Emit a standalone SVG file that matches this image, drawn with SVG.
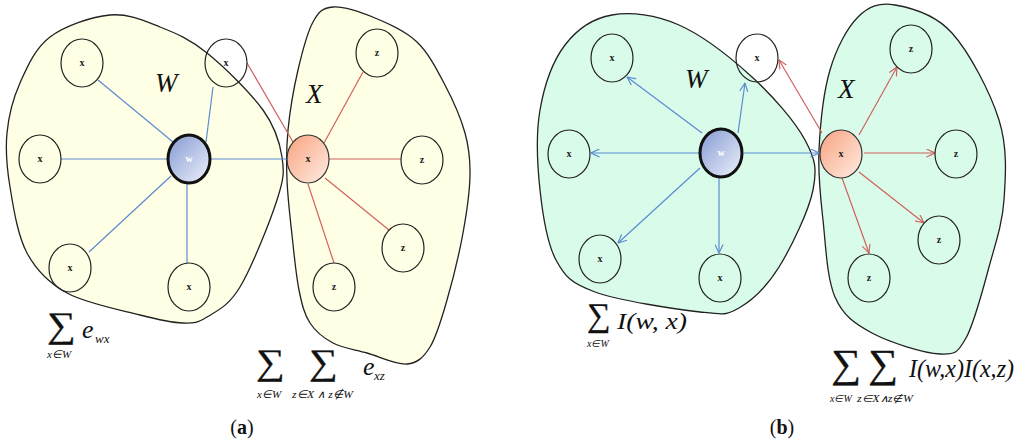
<svg xmlns="http://www.w3.org/2000/svg" width="1024" height="446" viewBox="0 0 1024 446">
<style>
.blobA{fill:#FFFFE6;stroke:#222;stroke-width:1.3}
.blobB{fill:#D9FBEA;stroke:#222;stroke-width:1.3}
.nd{fill:none;stroke:#222;stroke-width:1.2}
.lbl{font-family:"Liberation Serif",serif;font-size:10px;font-weight:bold;fill:#222;text-anchor:middle}
.wl{font-family:"Liberation Serif",serif;font-size:10px;font-weight:bold;fill:#fff;text-anchor:middle}
.blue{stroke:#5A8BD0;stroke-width:1.2;fill:none}
.red{stroke:#D0625C;stroke-width:1.2;fill:none}
.m{font-family:"Liberation Serif",serif;font-style:italic;fill:#111}
.sig{font-family:"Liberation Serif","DejaVu Serif",serif;fill:#111;stroke:#111;stroke-width:0.3}
.cap{font-family:"Liberation Serif",serif;font-size:20px;fill:#111;text-anchor:middle}
</style>
<defs>
<linearGradient id="gw" x1="0" y1="0" x2="1" y2="1">
<stop offset="0" stop-color="#8499D3"/><stop offset="1" stop-color="#EEF2FB"/>
</linearGradient>
<linearGradient id="go" x1="0" y1="0" x2="1" y2="1">
<stop offset="0" stop-color="#F8A27F"/><stop offset="1" stop-color="#FFEDE3"/>
</linearGradient>
<marker id="ab" viewBox="0 0 10 10" refX="9.5" refY="5" markerWidth="9" markerHeight="9" markerUnits="userSpaceOnUse" orient="auto">
<path d="M0,0.5 L9.5,5 L0,9.5" fill="none" stroke="#5A8BD0" stroke-width="1.3"/>
</marker>
<marker id="ar" viewBox="0 0 10 10" refX="9.5" refY="5" markerWidth="9" markerHeight="9" markerUnits="userSpaceOnUse" orient="auto">
<path d="M0,0.5 L9.5,5 L0,9.5" fill="none" stroke="#D0625C" stroke-width="1.3"/>
</marker>
</defs>

<!-- Panel (a) -->
<g id="a-setW">
<path class="blobA" d="M110,15 C128.3,13.3 143.8,20.7 160,27 C176.2,33.3 189.8,39.2 207,53 C224.2,66.8 250.5,92.7 263,110 C275.5,127.3 279.7,142 282,157 C284.3,172 284,178.3 277,200 C270,221.7 251.7,267.5 240,287 C228.3,306.5 216.5,311 207,317 C197.5,323 194.2,323.3 183,323 C171.8,322.7 159.3,320 140,315 C120.7,310 85.8,303.3 67,293 C48.2,282.7 36.5,270.7 27,253 C17.5,235.3 13.3,207 10,187 C6.7,167 5.3,150.3 7,133 C8.7,115.7 12.8,99 20,83 C27.2,67 35,48.3 50,37 C65,25.7 91.7,16.7 110,15 Z"/>
<text class="m" x="155" y="92" font-size="27">W</text>
</g>
<g id="a-setX">
<path class="blobA" d="M333,7 C343.3,6.3 361,12.2 375,18 C389,23.8 405.3,30.8 417,42 C428.7,53.2 437,69.8 445,85 C453,100.2 460.8,118 465,133 C469.2,148 470.3,158.3 470,175 C469.7,191.7 466.8,212.2 463,233 C459.2,253.8 452.5,281 447,300 C441.5,319 436.7,336.3 430,347 C423.3,357.7 417.5,363 407,364 C396.5,365 379.3,356.5 367,353 C354.7,349.5 342.5,348 333,343 C323.5,338 315.7,331.8 310,323 C304.3,314.2 302,304.7 299,290 C296,275.3 294,253.3 292,235 C290,216.7 287.7,197.5 287,180 C286.3,162.5 286.2,148.3 288,130 C289.8,111.7 293.8,88 298,70 C302.2,52 307.2,32.5 313,22 C318.8,11.5 322.7,7.7 333,7 Z"/>
<text class="m" x="306" y="103" font-size="27">X</text>
</g>
<g id="a-edges">
<line class="blue" x1="173" y1="142" x2="98" y2="80"/>
<line class="blue" x1="206" y1="142" x2="213" y2="87"/>
<line class="blue" x1="168" y1="159" x2="61" y2="159"/>
<line class="blue" x1="171" y1="176" x2="89" y2="252"/>
<line class="blue" x1="187" y1="183" x2="187" y2="263"/>
<line class="blue" x1="210" y1="159" x2="287" y2="159"/>
<line class="red" x1="293" y1="142" x2="247" y2="63"/>
<line class="red" x1="324" y1="143" x2="363" y2="72"/>
<line class="red" x1="329" y1="159" x2="401" y2="159"/>
<line class="red" x1="325" y1="178" x2="389" y2="230"/>
<line class="red" x1="308" y1="184" x2="334" y2="263"/>
</g>
<g id="a-x1"><ellipse class="nd" cx="82" cy="63" rx="21" ry="24"/><text class="lbl" x="82" y="66">x</text></g>
<g id="a-x2"><ellipse class="nd" cx="226" cy="63" rx="21" ry="24"/><text class="lbl" x="226" y="66">x</text></g>
<g id="a-x3"><ellipse class="nd" cx="40" cy="159" rx="21" ry="24"/><text class="lbl" x="40" y="162">x</text></g>
<g id="a-x4"><ellipse class="nd" cx="70" cy="268" rx="21" ry="24"/><text class="lbl" x="70" y="271">x</text></g>
<g id="a-x5"><ellipse class="nd" cx="189" cy="287" rx="21" ry="24"/><text class="lbl" x="189" y="290">x</text></g>
<g id="a-w"><ellipse cx="189" cy="159" rx="21" ry="24" fill="url(#gw)" stroke="#111" stroke-width="3"/><text class="wl" x="189" y="162">w</text></g>
<g id="a-xo"><ellipse cx="308" cy="159" rx="21" ry="24" fill="url(#go)" stroke="#333" stroke-width="1.2"/><text class="lbl" x="308" y="162">x</text></g>
<g id="a-z1"><ellipse class="nd" cx="377" cy="53" rx="21" ry="24"/><text class="lbl" x="377" y="56">z</text></g>
<g id="a-z2"><ellipse class="nd" cx="422" cy="160" rx="21" ry="24"/><text class="lbl" x="422" y="163">z</text></g>
<g id="a-z3"><ellipse class="nd" cx="403" cy="248" rx="21" ry="24"/><text class="lbl" x="403" y="251">z</text></g>
<g id="a-z4"><ellipse class="nd" cx="334" cy="287" rx="21" ry="24"/><text class="lbl" x="334" y="290">z</text></g>

<g id="a-formulas">
<text class="sig" font-size="36" transform="translate(47,337) scale(1.12,1)">∑</text>
<text class="m" x="47" y="358" font-size="11">x∈W</text>
<text class="m" x="82" y="338" font-size="26">e</text>
<text class="m" x="95" y="343" font-size="13">wx</text>
<text class="sig" font-size="36" transform="translate(256,374) scale(1.12,1)">∑</text>
<text class="sig" font-size="36" transform="translate(309,374) scale(1.12,1)">∑</text>
<text class="m" x="257" y="398" font-size="11">x∈W</text>
<text class="m" x="292" y="398" font-size="11" textLength="61" lengthAdjust="spacingAndGlyphs">z∈X ∧ z∉W</text>
<text class="m" x="363" y="375" font-size="26">e</text>
<text class="m" x="374" y="380" font-size="13">xz</text>
</g>
<text class="cap" x="242" y="434">(<tspan font-weight="bold">a</tspan>)</text>

<!-- Panel (b) -->
<g id="b-setW">
<path class="blobB" d="M612,15 C631,11.7 655.7,14.7 679,25 C702.3,35.3 731,57.8 752,77 C773,96.2 794.8,121.2 805,140 C815.2,158.8 817.3,168.8 813,190 C808.7,211.2 791.3,247.3 779,267 C766.7,286.7 752.2,300.5 739,308 C725.8,315.5 724,314.7 700,312 C676,309.3 619,300.7 595,292 C571,283.3 565.2,277 556,260 C546.8,243 542.7,215 540,190 C537.3,165 535.8,134.2 540,110 C544.2,85.8 553,60.8 565,45 C577,29.2 593,18.3 612,15 Z"/>
<text class="m" x="685" y="88" font-size="27">W</text>
</g>
<g id="b-setX">
<path class="blobB" d="M895,5 C910.7,7.7 934.7,13.8 952,33 C969.3,52.2 990.3,92.2 999,120 C1007.7,147.8 1005.7,175.5 1004,200 C1002.3,224.5 995.3,244 989,267 C982.7,290 974.2,323.5 966,338 C957.8,352.5 955.7,354.8 940,354 C924.3,353.2 889.5,342.5 872,333 C854.5,323.5 843.2,315.8 835,297 C826.8,278.2 825.7,244.5 823,220 C820.3,195.5 817.8,175 819,150 C820.2,125 823.5,92.2 830,70 C836.5,47.8 847.2,27.8 858,17 C868.8,6.2 879.3,2.3 895,5 Z"/>
<text class="m" x="838" y="98" font-size="27">X</text>
</g>
<g id="b-edges">
<line class="blue" marker-end="url(#ab)" x1="702" y1="133" x2="627" y2="77"/>
<line class="blue" marker-end="url(#ab)" x1="738" y1="133" x2="745" y2="83"/>
<line class="blue" marker-end="url(#ab)" x1="699" y1="153" x2="591" y2="153"/>
<line class="blue" marker-end="url(#ab)" x1="700" y1="168" x2="618" y2="243"/>
<line class="blue" marker-end="url(#ab)" x1="719" y1="178" x2="719" y2="253"/>
<line class="blue" marker-end="url(#ab)" x1="744" y1="153" x2="819" y2="153"/>
<line class="red" marker-end="url(#ar)" x1="822" y1="133" x2="779" y2="60"/>
<line class="red" marker-end="url(#ar)" x1="859" y1="135" x2="897" y2="67"/>
<line class="red" marker-end="url(#ar)" x1="864" y1="153" x2="935" y2="153"/>
<line class="red" marker-end="url(#ar)" x1="859" y1="172" x2="924" y2="223"/>
<line class="red" marker-end="url(#ar)" x1="842" y1="178" x2="869" y2="253"/>
</g>
<g id="b-x1"><ellipse class="nd" cx="612" cy="58" rx="21" ry="24"/><text class="lbl" x="612" y="61">x</text></g>
<g id="b-x2"><ellipse class="nd" cx="757" cy="58" rx="21" ry="24"/><text class="lbl" x="757" y="61">x</text></g>
<g id="b-x3"><ellipse class="nd" cx="569" cy="154" rx="21" ry="24"/><text class="lbl" x="569" y="157">x</text></g>
<g id="b-x4"><ellipse class="nd" cx="600" cy="259" rx="21" ry="24"/><text class="lbl" x="600" y="262">x</text></g>
<g id="b-x5"><ellipse class="nd" cx="720" cy="278" rx="21" ry="24"/><text class="lbl" x="720" y="281">x</text></g>
<g id="b-w"><ellipse cx="721" cy="153" rx="21" ry="24" fill="url(#gw)" stroke="#111" stroke-width="3"/><text class="wl" x="721" y="156">w</text></g>
<g id="b-xo"><ellipse cx="841" cy="154" rx="21" ry="24" fill="url(#go)" stroke="#333" stroke-width="1.2"/><text class="lbl" x="841" y="157">x</text></g>
<g id="b-z1"><ellipse class="nd" cx="911" cy="49" rx="21" ry="24"/><text class="lbl" x="911" y="52">z</text></g>
<g id="b-z2"><ellipse class="nd" cx="956" cy="154" rx="21" ry="24"/><text class="lbl" x="956" y="157">z</text></g>
<g id="b-z3"><ellipse class="nd" cx="939" cy="240" rx="21" ry="24"/><text class="lbl" x="939" y="243">z</text></g>
<g id="b-z4"><ellipse class="nd" cx="869" cy="278" rx="21" ry="24"/><text class="lbl" x="869" y="281">z</text></g>

<g id="b-formulas">
<text class="sig" font-size="33" transform="translate(587,326)">∑</text>
<text class="m" x="587" y="347" font-size="10">x∈W</text>
<text class="m" x="617" y="329" font-size="23" textLength="70" lengthAdjust="spacingAndGlyphs">I(w, x)</text>
<text class="sig" font-size="40" transform="translate(831,377) scale(1.05,1)">∑</text>
<text class="sig" font-size="40" transform="translate(868,377) scale(1.05,1)">∑</text>
<text class="m" x="830" y="402" font-size="10">x∈W</text>
<text class="m" x="857" y="402" font-size="10" textLength="56" lengthAdjust="spacingAndGlyphs">z∈X∧z∉W</text>
<text class="m" x="909" y="377" font-size="25" textLength="105" lengthAdjust="spacingAndGlyphs">I(w,x)I(x,z)</text>
</g>
<text class="cap" x="782" y="434">(<tspan font-weight="bold">b</tspan>)</text>
</svg>
